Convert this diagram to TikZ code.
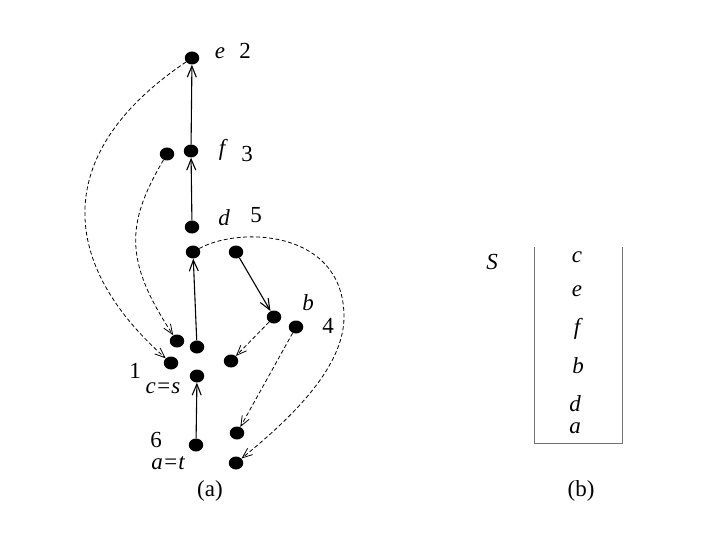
\documentclass[tikz,border=0pt]{standalone}
\usepackage{fontspec}
\setmainfont{Liberation Serif}
\usetikzlibrary{arrows.meta,shapes.geometric}
\tikzset{
  dot/.style={ellipse,fill=black,draw=none,minimum width=14.5pt,minimum height=13pt,inner sep=0pt},
  lab/.style={inner sep=0pt,font=\fontsize{23}{26}\selectfont},
  ilab/.style={inner sep=0pt,font=\fontsize{23}{26}\selectfont\itshape},
  solidarrow/.style={line width=1.1pt,-{Straight Barb[length=11pt,width=9pt]}},
  dasharrow/.style={line width=0.8pt,dash pattern=on 4pt off 2.5pt,-{Straight Barb[length=10pt,width=8pt]}},
  boxline/.style={draw=black!55,line width=0.8pt}
}
\begin{document}
\begin{tikzpicture}[x=1pt,y=-1pt]
\useasboundingbox (0,0) rectangle (720,540);
% dots
\node[dot] (e) at (192,58) {};
\node[dot] (f) at (191,151) {};
\node[dot] (fl) at (167,154) {};
\node[dot] (d) at (192,227) {};
\node[dot] (d2) at (193,252) {};
\node[dot] (r) at (236,252) {};
\node[dot] (b) at (274,317) {};
\node[dot] (b2) at (296,327) {};
\node[dot] (l1) at (177,341) {};
\node[dot] (c1) at (197,347) {};
\node[dot] (l2) at (171,363) {};
\node[dot] (m) at (231,361) {};
\node[dot] (c) at (197,376) {};
\node[dot] (s6) at (196,445) {};
\node[dot] (t1) at (237,433) {};
\node[dot] (t2) at (236,463) {};
% labels
\node[ilab] (le) at (220,53) {e};
\node[lab] (n2) at (245,51) {2};
\node[ilab] (lf) at (222,150) {f};
\node[lab] (n3) at (247,154) {3};
\node[ilab] (ld) at (224,218) {d};
\node[lab] (n5) at (256,215) {5};
\node[ilab] (lb) at (308,303) {b};
\node[lab] (n4) at (328,326) {4};
\node[lab] (n1) at (135,371) {1};
\node[ilab] (lc) at (163,388) {c=s};
\node[lab] (n6) at (156,440) {6};
\node[ilab] (la) at (168,463) {a=t};
\node[lab] (capa) at (210,491) {(a)};
\node[lab] (capb) at (581,491) {(b)};
% solid arrows
\draw[solidarrow] (f) -- (e);
\draw[solidarrow] (d) -- (f);
\draw[solidarrow] (c1) -- (d2);
\draw[solidarrow] (r) -- (b);
\draw[solidarrow] (s6) -- (c);
% dashed arrows
\draw[dasharrow] (e) .. controls (55,150) and (55,260) .. (l2);
\draw[dasharrow] (fl) .. controls (125,225) and (125,262) .. (l1);
\draw[dasharrow] (d2) .. controls (240,226) and (344,230) .. (344,317)
   .. controls (344,370) and (285,423) .. (t2);
\draw[dasharrow] (b) -- (m);
\draw[dasharrow] (b2) -- (t1);
% stack (b)
\node[ilab] (S) at (492,262) {S};
\coordinate (tl) at (534,247);
\coordinate (bl) at (534,443);
\coordinate (br) at (622,443);
\coordinate (tr) at (622,247);
\draw[boxline] (tl) -- (bl) -- (br) -- (tr);
\node[ilab] (sc) at (577,257) {c};
\node[ilab] (se) at (577,291) {e};
\node[ilab] (sf) at (577,329) {f};
\node[ilab] (sb) at (578,366) {b};
\node[ilab] (sd) at (575,404) {d};
\node[ilab] (sa) at (575,428) {a};
\end{tikzpicture}
\end{document}
